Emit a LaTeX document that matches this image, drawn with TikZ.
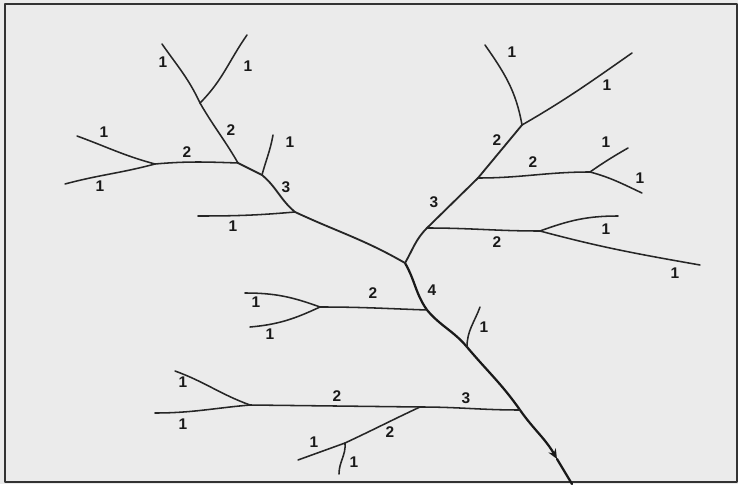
\documentclass[tikz,border=0pt]{standalone}
\usepackage{fontspec}
\setmainfont{Liberation Sans}
\usepackage{tikz}
\usetikzlibrary{arrows.meta}

\begin{document}
\begin{tikzpicture}[x=0.025cm, y=-0.025cm, line cap=round, line join=round,
    stream/.style={draw=black!85, line width=1.1pt},
    trunk/.style={draw=black!90, line width=1.6pt},
    order/.style={font=\fontsize{11}{13}\selectfont\bfseries, text=black!90, inner sep=0pt}]
    % Khung nền
    \fill[gray!16] (0,0) rectangle (738,484);
    \draw[line width=1.2pt, black!80] (5,4) rectangle (737,482);

    % Các điểm hợp lưu
    \coordinate (outlet) at (572,484);
    \coordinate (arr) at (557,459);
    \coordinate (jA) at (520,410);
    \coordinate (jB) at (467,347);
    \coordinate (jC) at (427,310);
    \coordinate (jD) at (405,263);
    \coordinate (lA) at (295,212);
    \coordinate (lB) at (262,175);
    \coordinate (lC) at (238,163);
    \coordinate (lD) at (200,103);
    \coordinate (lE) at (155,164);
    \coordinate (rA) at (427,228);
    \coordinate (rB) at (478,178);
    \coordinate (rC) at (522,125);
    \coordinate (rD) at (590,172);
    \coordinate (rE) at (540,231);
    \coordinate (mA) at (320,307);
    \coordinate (bA) at (420,407);
    \coordinate (bB) at (250,405);
    \coordinate (bC) at (345,443);

    % Các nguồn
    \coordinate (s1) at (162,44);
    \coordinate (s2) at (247,35);
    \coordinate (s3) at (77,136);
    \coordinate (s4) at (65,184);
    \coordinate (s5) at (273,135);
    \coordinate (s6) at (198,216);
    \coordinate (s7) at (485,45);
    \coordinate (s8) at (632,53);
    \coordinate (s9) at (628,148);
    \coordinate (s10) at (642,193);
    \coordinate (s11) at (618,216);
    \coordinate (s12) at (700,265);
    \coordinate (s13) at (480,307);
    \coordinate (s14) at (245,293);
    \coordinate (s15) at (250,327);
    \coordinate (s16) at (175,371);
    \coordinate (s17) at (155,413);
    \coordinate (s18) at (298,460);
    \coordinate (s19) at (339,474);

    % Dòng chính
    \draw[trunk, -{Stealth[length=7pt, width=6pt]}] (jA) to[out=-55, in=120] (arr);
    \draw[trunk] (arr) -- (outlet);
    \draw[trunk] (jA) to[out=125, in=-50] (jB) to[out=130, in=-50] (jC)
        to[out=125, in=-60] (jD);

    % Nhánh trái
    \draw[stream, line width=1.3pt] (jD) to[out=150, in=-25] (lA)
        to[out=140, in=-40] (lB) -- (lC);
    \draw[stream] (lC) to[out=120, in=-60] (lD);
    \draw[stream] (lD) to[out=115, in=-55] (s1);
    \draw[stream] (lD) to[out=45, in=-125] (s2);
    \draw[stream] (lC) to[out=178, in=5] (lE);
    \draw[stream] (lE) to[out=165, in=-20] (s3);
    \draw[stream] (lE) to[out=195, in=15] (s4);
    \draw[stream] (lB) to[out=75, in=-100] (s5);
    \draw[stream] (lA) to[out=185, in=0] (s6);

    % Nhánh phải
    \draw[stream, line width=1.3pt] (jD) to[out=60, in=-135] (rA)
        -- (rB) -- (rC);
    \draw[stream] (rC) to[out=100, in=-55] (s7);
    \draw[stream] (rC) to[out=30, in=-145] (s8);
    \draw[stream] (rB) to[out=0, in=180] (rD);
    \draw[stream] (rD) to[out=35, in=-150] (s9);
    \draw[stream] (rD) to[out=-15, in=155] (s10);
    \draw[stream] (rA) to[out=0, in=180] (rE);
    \draw[stream] (rE) to[out=20, in=180] (s11);
    \draw[stream] (rE) to[out=-15, in=170] (s12);

    % Nhánh giữa
    \draw[stream] (jB) to[out=90, in=-110] (s13);
    \draw[stream] (jC) to[out=178, in=0] (mA);
    \draw[stream] (mA) to[out=160, in=0] (s14);
    \draw[stream] (mA) to[out=205, in=5] (s15);

    % Nhánh dưới
    \draw[stream] (jA) to[out=180, in=0] (bA) -- (bB);
    \draw[stream] (bB) to[out=160, in=-20] (s16);
    \draw[stream] (bB) to[out=185, in=0] (s17);
    \draw[stream] (bA) to[out=205, in=25] (bC) -- (s18);
    \draw[stream] (bC) to[out=-85, in=90] (s19);

    % Bậc dòng chảy
    \node[order] (n1) at (163,62) {1};
    \node[order] (n2) at (248,66) {1};
    \node[order] (n3) at (231,130) {2};
    \node[order] (n4) at (104,132) {1};
    \node[order] (n5) at (187,152) {2};
    \node[order] (n6) at (100,186) {1};
    \node[order] (n7) at (290,142) {1};
    \node[order] (n8) at (286,187) {3};
    \node[order] (n9) at (233,226) {1};
    \node[order] (n10) at (512,52) {1};
    \node[order] (n11) at (607,85) {1};
    \node[order] (n12) at (497,140) {2};
    \node[order] (n13) at (606,142) {1};
    \node[order] (n14) at (533,162) {2};
    \node[order] (n15) at (640,178) {1};
    \node[order] (n16) at (434,202) {3};
    \node[order] (n17) at (606,229) {1};
    \node[order] (n18) at (497,242) {2};
    \node[order] (n19) at (675,273) {1};
    \node[order] (n20) at (432,290) {4};
    \node[order] (n21) at (373,293) {2};
    \node[order] (n22) at (256,302) {1};
    \node[order] (n23) at (484,327) {1};
    \node[order] (n24) at (270,334) {1};
    \node[order] (n25) at (183,382) {1};
    \node[order] (n26) at (337,396) {2};
    \node[order] (n27) at (466,398) {3};
    \node[order] (n28) at (183,424) {1};
    \node[order] (n29) at (390,432) {2};
    \node[order] (n30) at (314,442) {1};
    \node[order] (n31) at (354,462) {1};
\end{tikzpicture}
\end{document}
